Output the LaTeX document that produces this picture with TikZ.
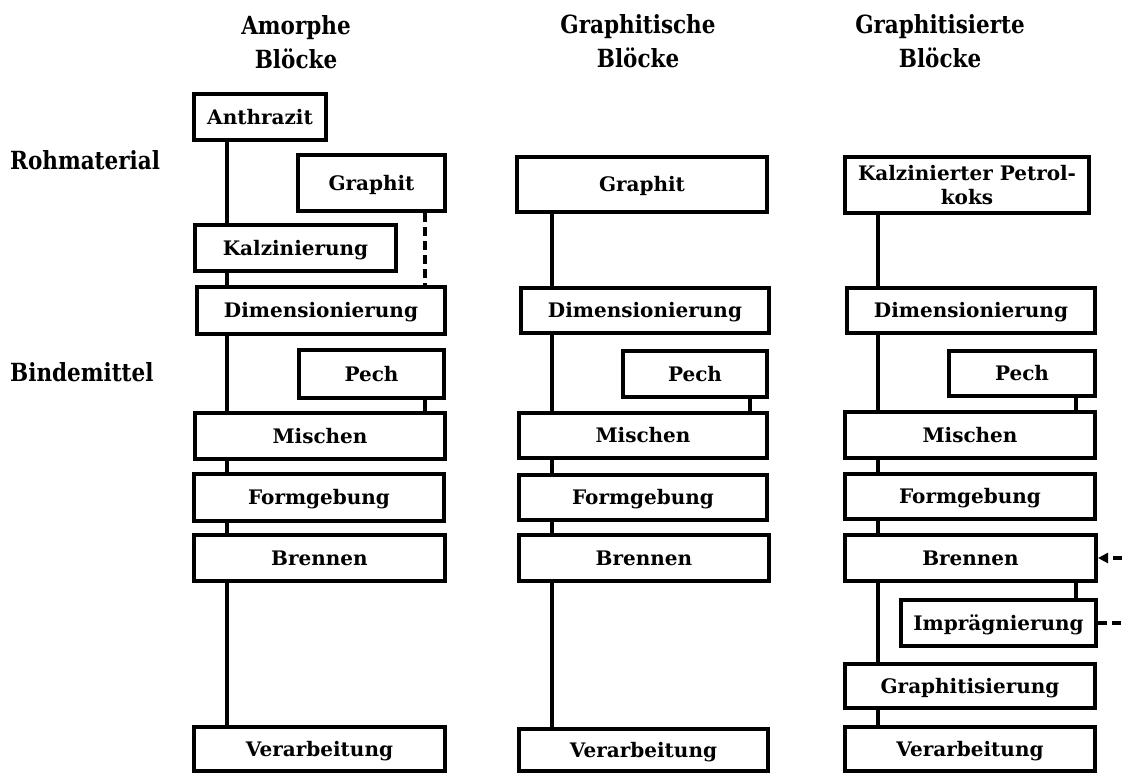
\documentclass[tikz,border=0pt]{standalone}
\usepackage{fontspec}
\setmainfont{DejaVu Serif}
\newfontfamily\titlefont[FakeStretch=0.86]{DejaVu Serif}
\usetikzlibrary{arrows.meta}
\tikzset{
  boxbase/.style={draw, line width=4pt, inner sep=0pt, align=center,
    font=\bfseries\fontsize{20}{24}\selectfont},
  box/.style={boxbase, text height=18.5pt, text depth=4pt},
  conn/.style={line width=3.6pt},
  dconn/.style={line width=3.6pt, dash pattern=on 9pt off 5pt},
  ttl/.style={font=\titlefont\bfseries\fontsize{25}{34}\selectfont, align=center, inner sep=0pt},
  lbl/.style={font=\titlefont\bfseries\fontsize{25}{30}\selectfont, inner sep=0pt}
}
\begin{document}
\begin{tikzpicture}[x=1pt,y=-1pt]
\useasboundingbox (0,0) rectangle (1122,774);
% titles
\node[ttl, anchor=north] (t1) at (296,15) {Amorphe\\Blöcke};
\node[ttl, anchor=north] (t2) at (638,14) {Graphitische\\Blöcke};
\node[ttl, anchor=north] (t3) at (940,14) {Graphitisierte\\Blöcke};
\node[lbl, anchor=base west] (roh) at (10,169) {Rohmaterial};
\node[lbl, anchor=base west] (bind) at (10,381) {Bindemittel};
% left column
\node[box, minimum width=132pt, minimum height=46pt] (anth) at (260,117) {Anthrazit};
\node[box, minimum width=147pt, minimum height=56pt] (graL) at (371.5,183) {Graphit};
\node[box, minimum width=201pt, minimum height=46pt] (kalz) at (295.5,248) {Kalzinierung};
\node[box, minimum width=248pt, minimum height=47pt] (dimL) at (321,310.5) {Dimensionierung};
\node[box, minimum width=145pt, minimum height=48pt] (pechL) at (371.5,374) {Pech};
\node[box, minimum width=250pt, minimum height=46pt] (misL) at (320,436) {Mischen};
\node[box, minimum width=250pt, minimum height=47pt] (forL) at (319,497.5) {Formgebung};
\node[box, minimum width=251pt, minimum height=46pt] (breL) at (319.5,558) {Brennen};
\node[box, minimum width=251pt, minimum height=44pt] (verL) at (319.5,749) {Verarbeitung};
% middle column
\node[box, minimum width=250pt, minimum height=55pt] (graM) at (642,184.5) {Graphit};
\node[box, minimum width=248pt, minimum height=45pt] (dimM) at (645,310.5) {Dimensionierung};
\node[box, minimum width=144pt, minimum height=46pt] (pechM) at (695,374) {Pech};
\node[box, minimum width=248pt, minimum height=45pt] (misM) at (643,435.5) {Mischen};
\node[box, minimum width=248pt, minimum height=45pt] (forM) at (643,497.5) {Formgebung};
\node[box, minimum width=250pt, minimum height=46pt] (breM) at (644,558) {Brennen};
\node[box, minimum width=249pt, minimum height=42pt] (verM) at (643.5,750) {Verarbeitung};
% right column
\node[boxbase, minimum width=244pt, minimum height=56pt] (kpk) at (967,185) {Kalzinierter Petrol-\\koks};
\node[box, minimum width=248pt, minimum height=45pt] (dimR) at (971,310.5) {Dimensionierung};
\node[box, minimum width=146pt, minimum height=45pt] (pechR) at (1022,373.5) {Pech};
\node[box, minimum width=250pt, minimum height=46pt] (misR) at (970,435) {Mischen};
\node[box, minimum width=250pt, minimum height=45pt] (forR) at (970,496.5) {Formgebung};
\node[box, minimum width=251pt, minimum height=46pt] (breR) at (970.5,558) {Brennen};
\node[box, minimum width=195pt, minimum height=46pt] (impR) at (998.5,623) {Imprägnierung};
\node[box, minimum width=250pt, minimum height=44pt] (graphR) at (970,686) {Graphitisierung};
\node[box, minimum width=250pt, minimum height=44pt] (verR) at (970,749) {Verarbeitung};
% vertical guide coordinates
\coordinate (xl) at (227,0);
\coordinate (xlb) at (425,0);
\coordinate (xm) at (552,0);
\coordinate (xmb) at (750,0);
\coordinate (xr) at (878,0);
\coordinate (xrb) at (1076,0);
\coordinate (inB) at (1122,558);
\coordinate (inI) at (1122,623);
% left connectors
\draw[conn] (anth.south -| xl) -- (kalz.north -| xl);
\draw[conn] (kalz.south -| xl) -- (dimL.north -| xl);
\draw[dconn] (graL.south -| xlb) -- (dimL.north -| xlb);
\draw[conn] (dimL.south -| xl) -- (misL.north -| xl);
\draw[conn] (pechL.south -| xlb) -- (misL.north -| xlb);
\draw[conn] (misL.south -| xl) -- (forL.north -| xl);
\draw[conn] (forL.south -| xl) -- (breL.north -| xl);
\draw[conn] (breL.south -| xl) -- (verL.north -| xl);
% middle connectors
\draw[conn] (graM.south -| xm) -- (dimM.north -| xm);
\draw[conn] (dimM.south -| xm) -- (misM.north -| xm);
\draw[conn] (pechM.south -| xmb) -- (misM.north -| xmb);
\draw[conn] (misM.south -| xm) -- (forM.north -| xm);
\draw[conn] (forM.south -| xm) -- (breM.north -| xm);
\draw[conn] (breM.south -| xm) -- (verM.north -| xm);
% right connectors
\draw[conn] (kpk.south -| xr) -- (dimR.north -| xr);
\draw[conn] (dimR.south -| xr) -- (misR.north -| xr);
\draw[conn] (pechR.south -| xrb) -- (misR.north -| xrb);
\draw[conn] (misR.south -| xr) -- (forR.north -| xr);
\draw[conn] (forR.south -| xr) -- (breR.north -| xr);
\draw[conn] (breR.south -| xr) -- (graphR.north -| xr);
\draw[conn] (breR.south -| xrb) -- (impR.north -| xrb);
\draw[conn] (graphR.south -| xr) -- (verR.north -| xr);
\draw[dconn, -{Triangle[length=10pt,width=10pt]}] (inB) -- (breR.east);
\draw[dconn] (impR.east) -- (inI);
\end{tikzpicture}
\end{document}
